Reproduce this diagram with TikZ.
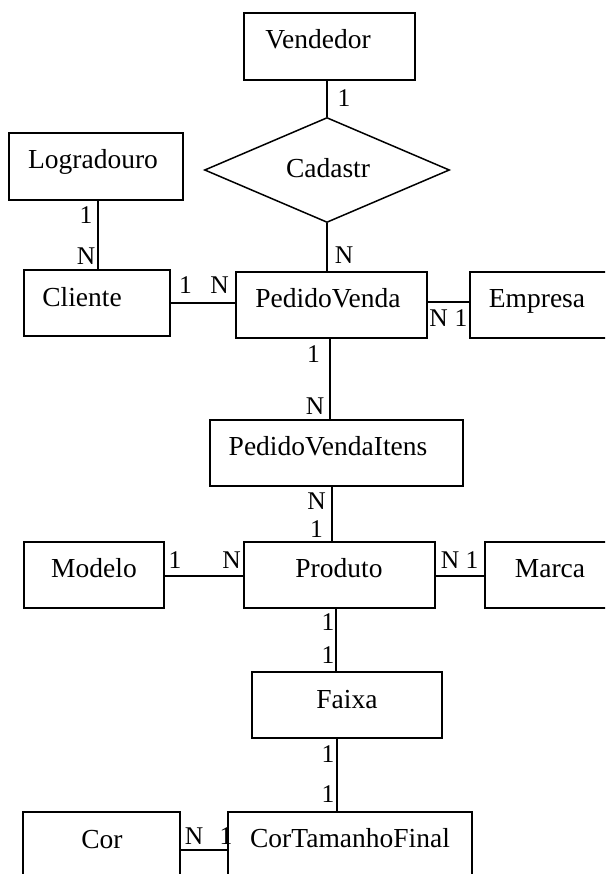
\documentclass[tikz,border=0pt]{standalone}
\usepackage{fontspec}
\setmainfont{Liberation Serif}
\usetikzlibrary{shapes.geometric}
\begin{document}
\begin{tikzpicture}[x=1pt,y=-1pt,
  ent/.style={draw=black, line width=1.5pt, rectangle, inner sep=0pt},
  rel/.style={draw=black, line width=1.5pt, diamond, inner sep=0pt},
  lbl/.style={font=\fontsize{27.5}{30}\selectfont, anchor=base, inner sep=0pt},
  card/.style={font=\fontsize{25.5}{26}\selectfont, inner sep=0pt},
  conn/.style={draw=black, line width=1.5pt}]
\clip (0,0) rectangle (605,874);
\fill[white] (0,0) rectangle (605,874);
% entities (center, width, height)
\node[ent, minimum width=171, minimum height=67] (ven) at (329.5,46.5) {};
\node[ent, minimum width=174, minimum height=67] (log) at (96,166.5) {};
\node[ent, minimum width=146, minimum height=66] (cli) at (97,303) {};
\node[ent, minimum width=191, minimum height=66] (pv) at (331.5,305) {};
\node[ent, minimum width=150, minimum height=66] (emp) at (545,305) {};
\node[ent, minimum width=253, minimum height=66] (pvi) at (336.5,453) {};
\node[ent, minimum width=140, minimum height=66] (mod) at (94,575) {};
\node[ent, minimum width=191, minimum height=66] (prod) at (339.5,575) {};
\node[ent, minimum width=135, minimum height=66] (marca) at (552.5,575) {};
\node[ent, minimum width=190, minimum height=66] (faixa) at (347,705) {};
\node[ent, minimum width=157, minimum height=88] (cor) at (101.5,856) {};
\node[ent, minimum width=244, minimum height=88] (ctf) at (350,856) {};
\node[rel, minimum width=245, minimum height=105] (dia) at (327,170) {};
% texts
\node[lbl] (tven) at (318,49) {Vendedor};
\node[lbl] (tlog) at (93,169) {Logradouro};
\node[lbl] (tdia) at (328,178) {Cadastr};
\node[lbl] (tcli) at (82,306) {Cliente};
\node[lbl] (tpv) at (328,307) {PedidoVenda};
\node[lbl] (temp) at (537,307) {Empresa};
\node[lbl] (tpvi) at (328,455) {PedidoVendaItens};
\node[lbl] (tmod) at (94,577) {Modelo};
\node[lbl] (tprod) at (339,577) {Produto};
\node[lbl] (tmarca) at (550,577) {Marca};
\node[lbl] (tfaixa) at (347,708) {Faixa};
\node[lbl] (tcor) at (102,848) {Cor};
\node[lbl] (tctf) at (350,847) {CorTamanhoFinal};
% connectors
\draw[conn] (ven.south -| dia.north) -- (dia.north);
\draw[conn] ([xshift=2pt]log.south) -- ([xshift=2pt]log.south |- cli.north);
\draw[conn] (dia.south) -- (dia.south |- pv.north);
\draw[conn] (cli.east) -- (cli.east -| pv.west);
\draw[conn] ([yshift=3pt]pv.east) -- ([yshift=3pt]pv.east -| emp.west);
\draw[conn] ([xshift=-1.5pt]pv.south) -- ([xshift=-1.5pt]pv.south |- pvi.north);
\draw[conn] ([xshift=-4.5pt]pvi.south) -- ([xshift=-4.5pt]pvi.south |- prod.north);
\draw[conn] ([yshift=-1pt]mod.east) -- ([yshift=-1pt]mod.east -| prod.west);
\draw[conn] ([yshift=-1pt]prod.east) -- ([yshift=-1pt]prod.east -| marca.west);
\draw[conn] ([xshift=-3.5pt]prod.south) -- ([xshift=-3.5pt]prod.south |- faixa.north);
\draw[conn] ([xshift=-10pt]faixa.south) -- ([xshift=-10pt]faixa.south |- ctf.north);
\draw[conn] ([yshift=6pt]cor.east) -- ([yshift=6pt]cor.east -| ctf.west);
% cardinalities
\node[card] (c1) at (344,98.5) {1};
\node[card] (c2) at (86,215) {1};
\node[card] (c3) at (86,256) {N};
\node[card] (c4) at (344,255) {N};
\node[card] (c5) at (185.5,285.5) {1};
\node[card] (c6) at (219.5,285.5) {N};
\node[card] (c7) at (438.5,318.5) {N};
\node[card] (c8) at (461,318.5) {1};
\node[card] (c9) at (313.5,354) {1};
\node[card] (c10) at (315,406) {N};
\node[card] (c11) at (316.5,501) {N};
\node[card] (c12) at (316.5,529.5) {1};
\node[card] (c13) at (175,560) {1};
\node[card] (c14) at (231.5,560) {N};
\node[card] (c15) at (450,560) {N};
\node[card] (c16) at (472,560) {1};
\node[card] (c17) at (328,622) {1};
\node[card] (c18) at (328,655) {1};
\node[card] (c19) at (328,754) {1};
\node[card] (c20) at (328,794) {1};
\node[card] (c21) at (194,836) {N};
\node[card] (c22) at (226,836) {1};
\end{tikzpicture}
\end{document}
